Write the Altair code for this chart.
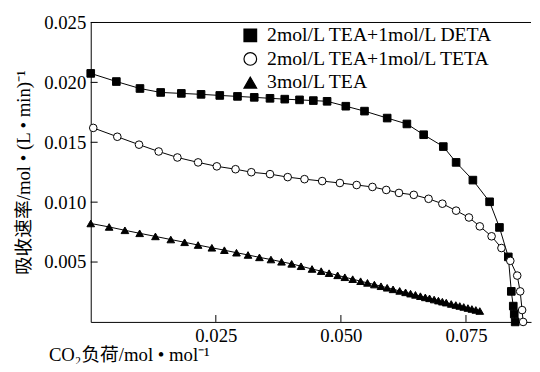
import altair as alt
import pandas as pd

series_names = ["2mol/L TEA+1mol/L DETA", "2mol/L TEA+1mol/L TETA", "3mol/L TEA"]

deta_x = [0.0, 0.00512, 0.00984, 0.01398, 0.01811, 0.02205, 0.02579, 0.02933, 0.03268, 0.03583,
          0.03878, 0.04173, 0.04449, 0.04724, 0.05098, 0.05472, 0.05925, 0.06319, 0.06654, 0.07047,
          0.07303, 0.07638, 0.07972, 0.08169, 0.08346, 0.08406, 0.08445, 0.08465, 0.08484]
deta_y = [0.02075, 0.02007, 0.01949, 0.01916, 0.01908, 0.01900, 0.01891, 0.01883, 0.01875, 0.01867,
          0.01860, 0.01854, 0.01848, 0.01842, 0.01801, 0.01760, 0.01702, 0.01653, 0.01563, 0.01464,
          0.01332, 0.01184, 0.01003, 0.00789, 0.00543, 0.00255, 0.00132, 0.00066, 0.0]

teta_x = [0.0005, 0.00531, 0.00965, 0.01358, 0.01732, 0.02146, 0.02520, 0.02894, 0.03209, 0.03583,
          0.03937, 0.04272, 0.04626, 0.04980, 0.05315, 0.05630, 0.05906, 0.06161, 0.06457, 0.06752,
          0.07028, 0.07303, 0.07559, 0.07776, 0.08012, 0.08209, 0.08386, 0.08524, 0.08583, 0.08622,
          0.08642]
teta_y = [0.0162, 0.01546, 0.01480, 0.01423, 0.01373, 0.01332, 0.01299, 0.01275, 0.01250, 0.01234,
          0.01209, 0.01192, 0.01176, 0.01160, 0.01143, 0.01127, 0.01102, 0.01077, 0.01061, 0.01028,
          0.00987, 0.00929, 0.00872, 0.00798, 0.00715, 0.00617, 0.00510, 0.00387, 0.00255, 0.00099,
          0.0]

tea_x = [0.0, 0.00368, 0.00683, 0.00978, 0.01293, 0.01600, 0.01876, 0.02146, 0.02421, 0.02671,
         0.02913, 0.03144, 0.03372, 0.03602, 0.03813, 0.04016, 0.04203, 0.04423, 0.04606, 0.04764,
         0.04935, 0.05079, 0.05236, 0.05394, 0.05531, 0.05669, 0.05801, 0.05925, 0.06043, 0.06175,
         0.06293, 0.06392, 0.06490, 0.06589, 0.06687, 0.06772, 0.06864, 0.06949, 0.07028, 0.07106,
         0.07205, 0.07297, 0.07376, 0.07455, 0.07539, 0.07618, 0.07697, 0.07776]
tea_y = [0.00822, 0.00793, 0.00765, 0.00740, 0.00714, 0.00688, 0.00665, 0.00642, 0.00619, 0.00599,
         0.00578, 0.00559, 0.00539, 0.00521, 0.00502, 0.00485, 0.00465, 0.00442, 0.00424, 0.00407,
         0.00389, 0.00373, 0.00357, 0.00340, 0.00326, 0.00312, 0.00298, 0.00285, 0.00272, 0.00259,
         0.00247, 0.00236, 0.00226, 0.00215, 0.00205, 0.00197, 0.00187, 0.00178, 0.00169, 0.00161,
         0.00150, 0.00141, 0.00133, 0.00125, 0.00116, 0.00108, 0.00100, 0.00091]

x_tick_values = [0.025, 0.050, 0.075]
y_tick_values = [0.005, 0.010, 0.015, 0.020, 0.025]
x_domain = [0, 0.088]
y_domain = [0, 0.025]

rows = []
for name, xs, ys in zip(series_names, [deta_x, teta_x, tea_x], [deta_y, teta_y, tea_y]):
    for i, (a, b) in enumerate(zip(xs, ys)):
        rows.append({"series": name, "loading": a, "rate": b, "order": i})
df = pd.DataFrame(rows)

FONT = "'Liberation Serif', 'Times New Roman', 'Noto Sans CJK SC', serif"
xscale = alt.Scale(domain=x_domain, nice=False, zero=False)
yscale = alt.Scale(domain=y_domain, nice=False, zero=False)

x_axis = alt.Axis(values=x_tick_values, format=".3f", title="CO₂负荷/mol • mol⁻¹",
                  grid=False, ticks=False, labelPadding=5, titlePadding=0,
                  titleX=-43, titleAlign="left", titleAnchor="start")
y_axis = alt.Axis(values=y_tick_values, format=".3f", title="吸收速率/mol • (L • min)⁻¹",
                  grid=False, ticks=False, labelPadding=5, titlePadding=10)

legend_def = alt.Legend(title=None, symbolStrokeWidth=1.2, labelLimit=400)

base = alt.Chart(df)

lines = base.mark_line(color="black", strokeWidth=1).encode(
    x=alt.X("loading:Q", scale=xscale, axis=x_axis),
    y=alt.Y("rate:Q", scale=yscale, axis=y_axis),
    detail="series:N",
    order="order:Q",
)

points = base.mark_point(filled=True, strokeWidth=1, opacity=1, size=60).encode(
    x=alt.X("loading:Q", scale=xscale, axis=x_axis),
    y=alt.Y("rate:Q", scale=yscale, axis=y_axis),
    shape=alt.Shape("series:N", sort=series_names,
                    scale=alt.Scale(domain=series_names, range=["square", "circle", "triangle-up"]),
                    legend=legend_def),
    fill=alt.Fill("series:N", sort=series_names,
                  scale=alt.Scale(domain=series_names, range=["black", "white", "black"]),
                  legend=legend_def),
    stroke=alt.Stroke("series:N", sort=series_names,
                      scale=alt.Scale(domain=series_names, range=["black", "black", "black"]),
                      legend=legend_def),
)

xticks = alt.Chart(pd.DataFrame({"loading": x_tick_values})).mark_rule(color="black").encode(
    x=alt.X("loading:Q", scale=xscale, axis=x_axis), y=alt.value(304), y2=alt.value(297))
yticks = alt.Chart(pd.DataFrame({"rate": y_tick_values})).mark_rule(color="black").encode(
    y=alt.Y("rate:Q", scale=yscale, axis=y_axis), x=alt.value(0), x2=alt.value(7))
top_line = alt.Chart(pd.DataFrame({"rate": [y_domain[1]]})).mark_rule(color="black").encode(
    y=alt.Y("rate:Q", scale=yscale, axis=y_axis))

chart = alt.layer(lines, points, xticks, yticks, top_line).properties(
    width=447, height=304,
    autosize=alt.AutoSizeParams(type="none"),
    padding={"left": 84, "top": 12, "right": 1, "bottom": 40},
).configure_view(stroke=None).configure_axis(
    labelFont=FONT, labelFontSize=19, labelColor="black",
    titleFont=FONT, titleFontSize=19, titleFontWeight="normal", titleColor="black",
    domainColor="black", domainWidth=1,
).configure_legend(
    orient="none", legendX=152, legendY=3,
    labelFont=FONT, labelFontSize=20, labelColor="black",
    symbolSize=165, symbolStrokeWidth=1.2,
    rowPadding=4, labelOffset=7,
)

chart.save("out.html", embed_options={"renderer": "svg", "actions": False})
